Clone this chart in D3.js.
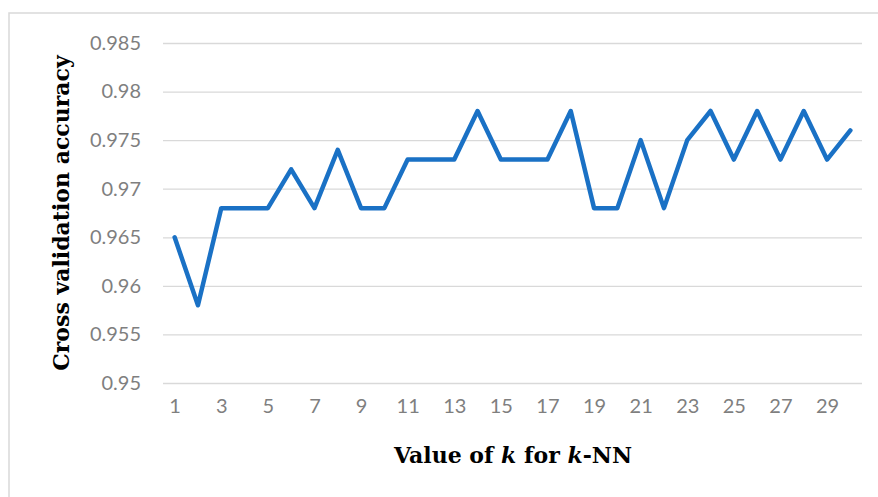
<!DOCTYPE html>
<html>
<head>
<meta charset="utf-8">
<script src="https://cdn.jsdelivr.net/npm/d3@7"></script>
<style>
  body { margin: 0; background: #fff; }
  svg { display: block; }
</style>
</head>
<body>
<div id="app"></div>
<script>
const kValues = d3.range(1, 31)
const accuracy = [
  0.965, 0.958, 0.968, 0.968, 0.968, 0.972, 0.968, 0.974, 0.968, 0.968,
  0.973, 0.973, 0.973, 0.978, 0.973, 0.973, 0.973, 0.978, 0.968, 0.968,
  0.975, 0.968, 0.975, 0.978, 0.973, 0.978, 0.973, 0.978, 0.973, 0.976
]
const yTicks = [0.95, 0.955, 0.96, 0.965, 0.97, 0.975, 0.98, 0.985]
const xTickLabels = kValues.filter(k => k % 2 === 1)

const W = 878, H = 497
const lineColor = '#1a71c5'
const gridColor = '#d9d9d9'
const labelColor = '#7f7f7f'

let svg = d3.select('#app').append('svg')
  .attr('width', W)
  .attr('height', H)

// chart frame (cut at right and bottom like the source)
svg.append('rect')
  .attr('x', 9).attr('y', 13)
  .attr('width', W + 20).attr('height', H + 20)
  .attr('fill', 'none')
  .attr('stroke', gridColor)
  .attr('stroke-width', 1.5)

const plotL = 163, plotR = 862, plotT = 43, plotB = 383

let x = d3.scalePoint()
  .domain(kValues)
  .range([plotL, plotR])
  .padding(0.5)

let y = d3.scaleLinear()
  .domain([0.95, 0.985])
  .range([plotB, plotT])

// gridlines
svg.append('g')
  .attr('transform', `translate(${plotL},0)`)
  .call(d3.axisLeft(y).tickValues(yTicks).tickSize(-(plotR - plotL)).tickFormat(''))
  .call(g => g.select('.domain').remove())
  .call(g => g.selectAll('line').attr('stroke', gridColor).attr('stroke-width', 1.3))

// y labels
svg.append('g')
  .attr('transform', `translate(${plotL},0)`)
  .call(d3.axisLeft(y).tickValues(yTicks).tickSize(0).tickPadding(22).tickFormat(d => String(+d.toFixed(3))))
  .call(g => g.select('.domain').remove())
  .call(g => g.selectAll('text')
    .attr('fill', labelColor)
    .attr('font-family', 'Lato, "Open Sans", sans-serif')
    .attr('font-size', 20))

// x labels
svg.append('g')
  .attr('transform', `translate(0,${plotB})`)
  .call(d3.axisBottom(x).tickValues(xTickLabels).tickSize(0).tickPadding(16))
  .call(g => g.select('.domain').remove())
  .call(g => g.selectAll('text')
    .attr('fill', labelColor)
    .attr('font-family', 'Lato, "Open Sans", sans-serif')
    .attr('font-size', 20))

// line
svg.append('path')
  .datum(kValues.map((k, i) => ({k, v: accuracy[i]})))
  .attr('d', d3.line().x(d => x(d.k)).y(d => y(d.v)))
  .attr('fill', 'none')
  .attr('stroke', lineColor)
  .attr('stroke-width', 4.5)
  .attr('stroke-linejoin', 'round')
  .attr('stroke-linecap', 'round')

// axis titles
const titleFont = '"DejaVu Serif", serif'
let xt = svg.append('text')
  .attr('x', 513)
  .attr('y', 463)
  .attr('text-anchor', 'middle')
  .attr('font-family', titleFont)
  .attr('font-weight', 'bold')
  .attr('font-size', 22)
  .attr('fill', '#000')
xt.append('tspan').text('Value of ')
xt.append('tspan').attr('font-style', 'italic').text('k')
xt.append('tspan').text(' for ')
xt.append('tspan').attr('font-style', 'italic').text('k')
xt.append('tspan').text('-NN')

svg.append('text')
  .attr('transform', 'translate(69,213) rotate(-90)')
  .attr('text-anchor', 'middle')
  .attr('font-family', titleFont)
  .attr('font-weight', 'bold')
  .attr('font-size', 22)
  .attr('fill', '#000')
  .text('Cross validation accuracy')
</script>
</body>
</html>
